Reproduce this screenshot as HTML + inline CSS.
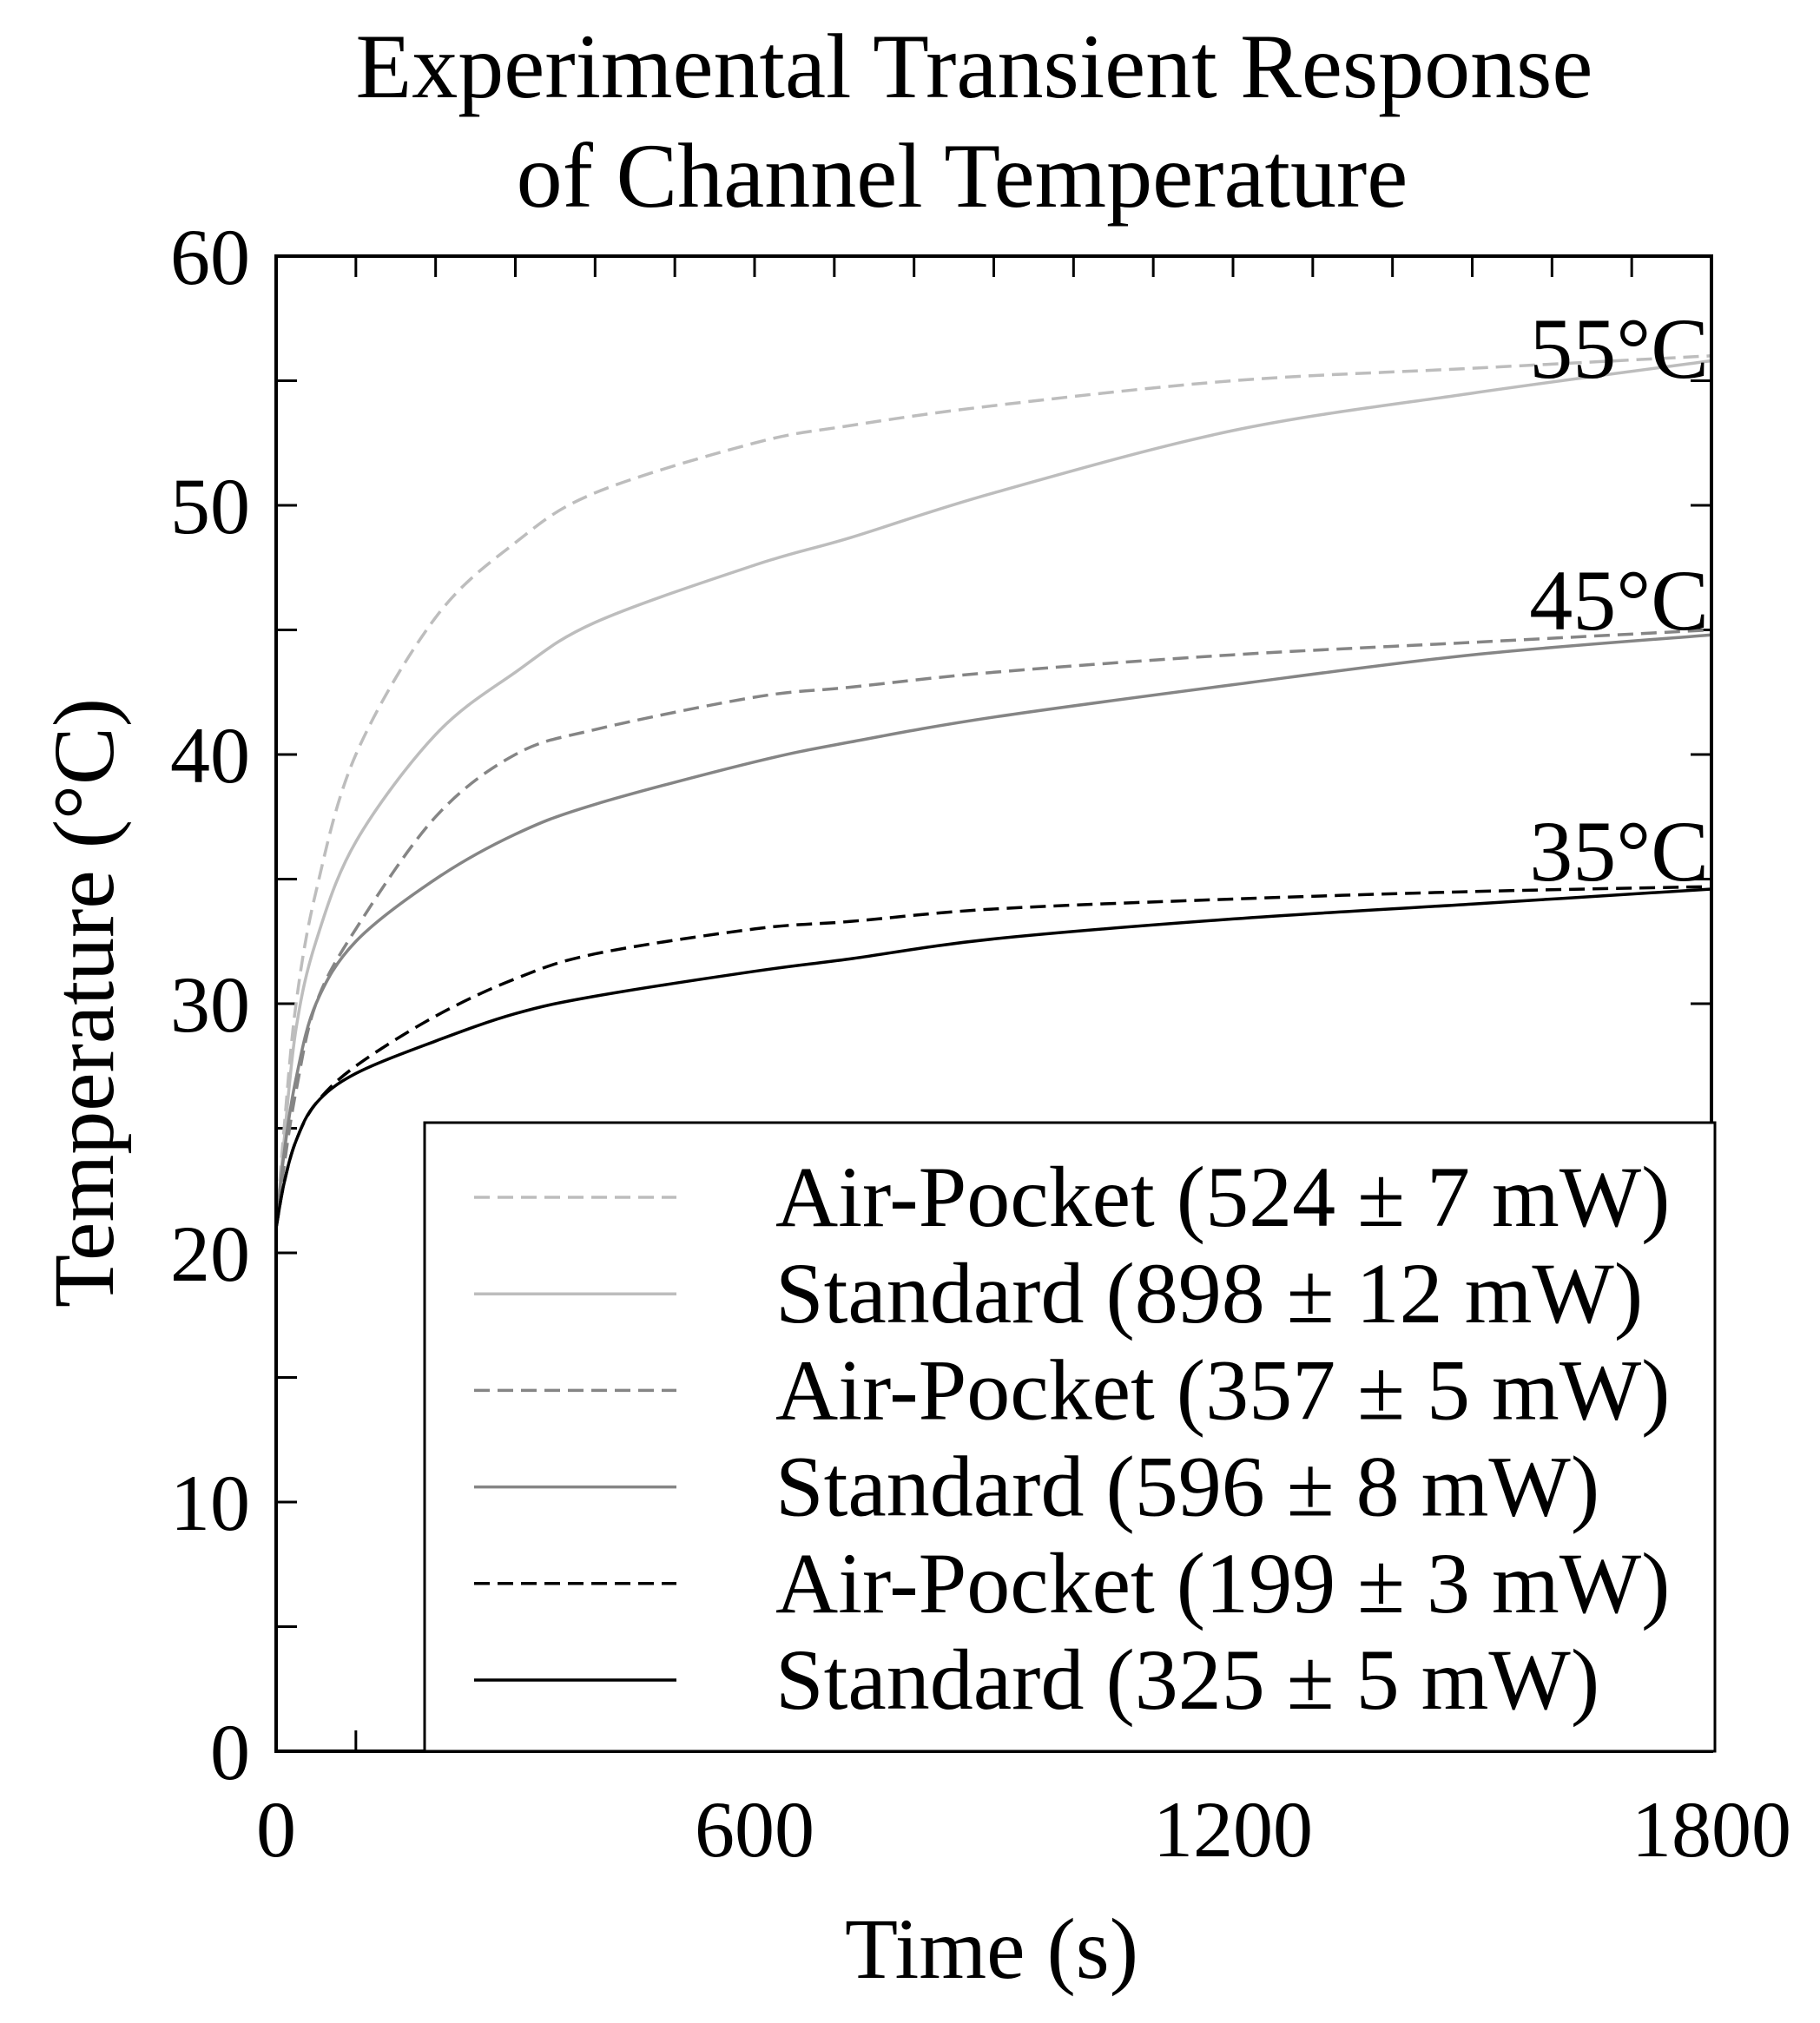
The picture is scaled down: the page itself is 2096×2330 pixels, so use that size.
<!DOCTYPE html>
<html><head><meta charset="utf-8"><style>
body{margin:0;background:#fff}
svg{display:block;font-family:"Liberation Serif",serif}
</style></head><body>
<svg id="c" width="2096" height="2330" viewBox="0 0 2096 2330">
<text x="1122" y="112" font-size="106" text-anchor="middle">Experimental Transient Response</text>
<text x="1108" y="238" font-size="106" text-anchor="middle">of Channel Temperature</text>
<text x="1142" y="2278" font-size="100" text-anchor="middle">Time (s)</text>
<text transform="translate(130,1155) rotate(-90)" font-size="100" text-anchor="middle">Temperature (°C)</text>
<g id="ticks"></g>
<g id="series"></g>
<rect x="318" y="295" width="1653" height="1722" fill="none" stroke="#000" stroke-width="4"/>
<text x="1968" y="435" font-size="100" text-anchor="end">55°C</text>
<text x="1968" y="725" font-size="100" text-anchor="end">45°C</text>
<text x="1968" y="1014" font-size="100" text-anchor="end">35°C</text>
<g id="legend"></g>
</svg>
<script>
const xTicks=[0,600,1200,1800];
const yTicks=[0,10,20,30,40,50,60];
const times=[0,10,25,50,100,200,300,400,600,720,900,1200,1500,1800];
const apHigh=[21,25,30,34.5,40,45.5,48.5,50.5,52.5,53.2,54,55,55.5,56];
const stdHigh=[21,24.5,29,32.5,36.5,40.8,43.3,45.3,47.6,48.7,50.5,53,54.5,55.8];
const apMid=[21,23.5,26.5,30,33,37.5,40,41,42.3,42.7,43.3,44,44.5,45];
const stdMid=[21,24,27,30,32.5,35,36.8,38,39.7,40.5,41.5,42.8,44,44.8];
const apLow=[21,22.8,24.5,26,27.5,29.5,31,32,33,33.3,33.8,34.2,34.5,34.7];
const stdLow=[21,22.8,24.5,26,27.2,28.5,29.6,30.3,31.3,31.8,32.6,33.4,34,34.6];
const seriesNames=["Air-Pocket (524 ± 7 mW)","Standard (898 ± 12 mW)","Air-Pocket (357 ± 5 mW)","Standard (596 ± 8 mW)","Air-Pocket (199 ± 3 mW)","Standard (325 ± 5 mW)"];
const seriesData=[apHigh,stdHigh,apMid,stdMid,apLow,stdLow];
const colors=["#bdbdbd","#bdbdbd","#858585","#858585","#000","#000"];
const dashed=[true,false,true,false,true,false];
const NS="http://www.w3.org/2000/svg";
const X0=318,X1=1971,Y0=2017,Y1=295;
const xs=t=>X0+(X1-X0)*t/1800, ys=v=>Y0-(Y0-Y1)*v/60;
function el(n,a,p){const e=document.createElementNS(NS,n);for(const k in a)e.setAttribute(k,a[k]);p.appendChild(e);return e;}
const tk=document.getElementById('ticks');
for(let t=0;t<=1800;t+=100){
 const l=el('line',{x1:xs(t),x2:xs(t),y1:Y0,y2:Y0-24,stroke:'#000','stroke-width':3},tk);
 
 
 const l2=el('line',{x1:xs(t),x2:xs(t),y1:Y1,y2:Y1+24,stroke:'#000','stroke-width':3},tk);
 
 
}
for(let v=0;v<=60;v+=5){
 const l=el('line',{x1:X0,x2:X0+24,y1:ys(v),y2:ys(v),stroke:'#000','stroke-width':3},tk);
 
 
 const l2=el('line',{x1:X1,x2:X1-24,y1:ys(v),y2:ys(v),stroke:'#000','stroke-width':3},tk);
 
 
}
xTicks.forEach(t=>{const e=el('text',{x:xs(t),y:2138,'font-size':92,'text-anchor':'middle'},tk);e.textContent=t;
 
 });
yTicks.forEach(v=>{const e=el('text',{x:288,y:ys(v)+32,'font-size':92,'text-anchor':'end'},tk);e.textContent=v;
 
 });
const sg=document.getElementById('series');
function pathFor(arr){
 const p=times.map((t,i)=>[xs(t),ys(arr[i])]);
 let d=`M${p[0][0]},${p[0][1]}`;
 for(let i=0;i<p.length-1;i++){
  const a=p[Math.max(0,i-1)],b=p[i],c=p[i+1],e=p[Math.min(p.length-1,i+2)];
  const c1=[b[0]+(c[0]-a[0])/6,b[1]+(c[1]-a[1])/6],c2=[c[0]-(e[0]-b[0])/6,c[1]-(e[1]-b[1])/6];
  d+=`C${c1[0]},${c1[1]} ${c2[0]},${c2[1]} ${c[0]},${c[1]}`;
 }
 return d;
}
seriesData.forEach((arr,i)=>{
 const e=el('path',{d:pathFor(arr),fill:'none',stroke:colors[i],'stroke-width':3.5,'stroke-dasharray':dashed[i]?'18 9':'none'},sg);
 
 
});
const lg=document.getElementById('legend');
const box=el('rect',{x:489,y:1293,width:1486,height:724,fill:'#fff',stroke:'#000','stroke-width':3},lg);


seriesNames.forEach((n,i)=>{
 const y=1379+i*111.2;
 const l=el('line',{x1:546,x2:779,y1:y,y2:y,stroke:colors[i],'stroke-width':3.5,'stroke-dasharray':dashed[i]?'18 9':'none'},lg);
 
 
 const t=el('text',{x:893,y:y+33,'font-size':100},lg);t.textContent=n;
 
 
});
</script>
</body></html>
